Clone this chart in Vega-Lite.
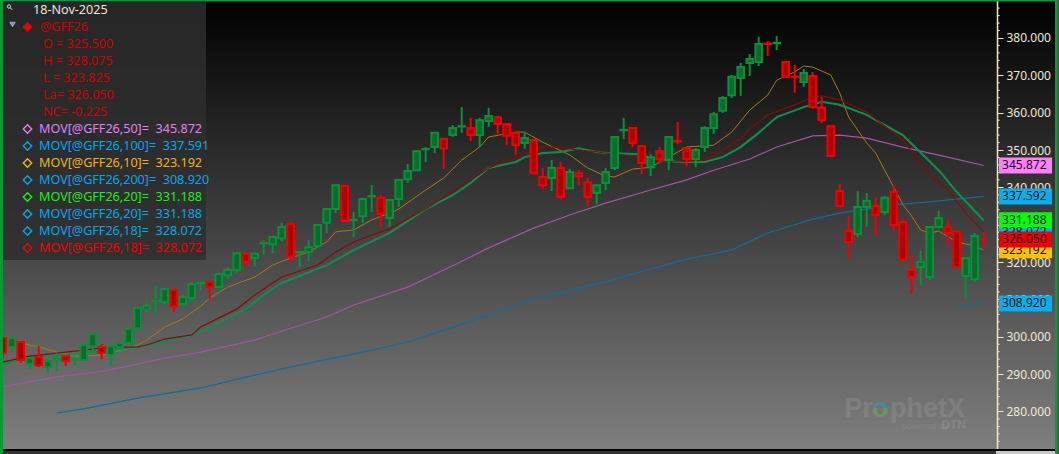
{"$schema":"https://vega.github.io/schema/vega-lite/v6.json","width":1059,"height":454,"padding":0,"autosize":{"type":"none"},"background":"#000000","view":{"stroke":null,"fill":{"gradient":"linear","x1":0,"y1":0,"x2":0,"y2":1,"stops":[{"offset":0,"color":"#000000"},{"offset":1,"color":"#808080"}]}},
"datasets":{
"bars":[
{"i":0,"o":299.7,"h":299.7,"l":294.3,"c":295.7,"d":"dn"},{"i":1,"o":297.3,"h":299.7,"l":295.9,"c":299.7,"d":"up"},{"i":2,"o":298.6,"h":298.6,"l":293.0,"c":293.8,"d":"dn"},{"i":3,"o":292.7,"h":294.3,"l":291.4,"c":294.3,"d":"up"},{"i":4,"o":294.6,"h":297.5,"l":291.9,"c":292.4,"d":"dn"},{"i":5,"o":291.9,"h":294.0,"l":290.6,"c":293.5,"d":"up"},{"i":6,"o":293.9,"h":295.7,"l":290.8,"c":294.0,"d":"up"},{"i":7,"o":294.8,"h":294.8,"l":292.2,"c":293.5,"d":"dn"},{"i":8,"o":293.9,"h":294.6,"l":292.4,"c":294.0,"d":"up"},{"i":9,"o":293.8,"h":297.8,"l":293.8,"c":297.8,"d":"up"},
{"i":10,"o":297.5,"h":300.7,"l":295.9,"c":300.7,"d":"up"},{"i":11,"o":297.3,"h":298.1,"l":294.0,"c":295.7,"d":"dn"},{"i":12,"o":295.1,"h":297.5,"l":292.4,"c":297.5,"d":"up"},{"i":13,"o":297.3,"h":298.6,"l":297.0,"c":298.3,"d":"up"},{"i":14,"o":298.3,"h":302.3,"l":298.1,"c":302.1,"d":"up"},{"i":15,"o":302.3,"h":308.0,"l":301.5,"c":307.7,"d":"up"},{"i":16,"o":307.4,"h":309.0,"l":306.6,"c":308.2,"d":"up"},{"i":17,"o":309.6,"h":313.6,"l":306.4,"c":309.7,"d":"up"},{"i":18,"o":309.3,"h":312.8,"l":308.5,"c":312.8,"d":"up"},{"i":19,"o":312.5,"h":312.5,"l":306.6,"c":308.2,"d":"dn"},
{"i":20,"o":308.8,"h":311.2,"l":308.0,"c":310.65,"d":"up"},{"i":21,"o":310.4,"h":314.7,"l":309.6,"c":314.1,"d":"up"},{"i":22,"o":314.3,"h":314.9,"l":312.3,"c":314.4,"d":"up"},{"i":23,"o":314.7,"h":314.7,"l":310.1,"c":313.3,"d":"dn"},{"i":24,"o":313.3,"h":316.8,"l":313.1,"c":316.8,"d":"up"},{"i":25,"o":316.5,"h":318.7,"l":315.5,"c":317.9,"d":"up"},{"i":26,"o":317.9,"h":322.7,"l":317.1,"c":322.4,"d":"up"},{"i":27,"o":322.2,"h":322.2,"l":318.7,"c":320.0,"d":"dn"},{"i":28,"o":321.1,"h":322.2,"l":318.7,"c":322.2,"d":"up"},{"i":29,"o":325.0,"h":325.9,"l":321.9,"c":325.1,"d":"up"},
{"i":30,"o":324.8,"h":326.7,"l":322.4,"c":326.7,"d":"up"},{"i":31,"o":326.4,"h":330.5,"l":325.6,"c":329.4,"d":"up"},{"i":32,"o":330.2,"h":330.7,"l":320.0,"c":321.4,"d":"dn"},{"i":33,"o":322.6,"h":323.0,"l":318.7,"c":322.7,"d":"up"},{"i":34,"o":322.7,"h":325.9,"l":320.3,"c":324.0,"d":"up"},{"i":35,"o":324.3,"h":330.2,"l":323.8,"c":329.9,"d":"up"},{"i":36,"o":330.5,"h":334.5,"l":327.8,"c":334.2,"d":"up"},{"i":37,"o":334.2,"h":340.9,"l":333.1,"c":340.6,"d":"up"},{"i":38,"o":340.4,"h":340.6,"l":330.7,"c":331.0,"d":"dn"},{"i":39,"o":331.2,"h":333.4,"l":326.7,"c":331.3,"d":"up"},
{"i":40,"o":332.3,"h":337.2,"l":330.5,"c":336.9,"d":"up"},{"i":41,"o":337.6,"h":340.6,"l":333.4,"c":337.7,"d":"up"},{"i":42,"o":337.2,"h":338.0,"l":329.4,"c":332.9,"d":"dn"},{"i":43,"o":331.8,"h":336.6,"l":329.4,"c":336.6,"d":"up"},{"i":44,"o":336.9,"h":342.0,"l":334.75,"c":342.0,"d":"up"},{"i":45,"o":342.2,"h":346.3,"l":341.2,"c":344.4,"d":"up"},{"i":46,"o":344.6,"h":350.0,"l":344.4,"c":349.7,"d":"up"},{"i":47,"o":350.2,"h":350.8,"l":346.8,"c":350.3,"d":"up"},{"i":48,"o":350.8,"h":354.6,"l":349.2,"c":354.6,"d":"up"},{"i":49,"o":353.0,"h":353.2,"l":344.9,"c":350.5,"d":"dn"},
{"i":50,"o":354.0,"h":356.7,"l":353.5,"c":355.9,"d":"up"},{"i":51,"o":356.3,"h":361.5,"l":354.6,"c":356.4,"d":"up"},{"i":52,"o":355.9,"h":358.6,"l":352.4,"c":354.0,"d":"dn"},{"i":53,"o":354.0,"h":358.6,"l":350.8,"c":358.0,"d":"up"},{"i":54,"o":357.8,"h":361.3,"l":356.2,"c":359.1,"d":"up"},{"i":55,"o":358.8,"h":359.1,"l":354.3,"c":357.0,"d":"dn"},{"i":56,"o":357.0,"h":357.2,"l":351.3,"c":353.8,"d":"dn"},{"i":57,"o":354.6,"h":354.6,"l":348.7,"c":351.3,"d":"dn"},{"i":58,"o":351.9,"h":354.6,"l":350.3,"c":353.2,"d":"up"},{"i":59,"o":352.7,"h":353.0,"l":343.6,"c":343.8,"d":"dn"},
{"i":60,"o":342.8,"h":345.2,"l":339.6,"c":340.6,"d":"dn"},{"i":61,"o":342.5,"h":347.3,"l":339.0,"c":345.2,"d":"up"},{"i":62,"o":345.2,"h":346.8,"l":336.9,"c":337.4,"d":"dn"},{"i":63,"o":339.8,"h":344.9,"l":339.6,"c":344.1,"d":"up"},{"i":64,"o":343.8,"h":344.6,"l":340.6,"c":343.0,"d":"dn"},{"i":65,"o":341.4,"h":342.5,"l":335.0,"c":337.4,"d":"dn"},{"i":66,"o":338.5,"h":340.6,"l":335.5,"c":340.6,"d":"up"},{"i":67,"o":341.2,"h":345.2,"l":339.3,"c":344.1,"d":"up"},{"i":68,"o":345.2,"h":353.5,"l":344.6,"c":353.5,"d":"up"},{"i":69,"o":355.3,"h":358.6,"l":353.0,"c":355.4,"d":"up"},
{"i":70,"o":355.9,"h":355.9,"l":350.8,"c":351.9,"d":"dn"},{"i":71,"o":351.1,"h":351.1,"l":343.6,"c":346.5,"d":"dn"},{"i":72,"o":345.4,"h":348.9,"l":343.0,"c":348.1,"d":"up"},{"i":73,"o":349.7,"h":350.8,"l":346.5,"c":347.6,"d":"dn"},{"i":74,"o":347.3,"h":353.5,"l":344.6,"c":353.5,"d":"up"},{"i":75,"o":352.4,"h":357.5,"l":351.6,"c":352.3,"d":"dn"},{"i":76,"o":350.5,"h":350.8,"l":345.7,"c":347.6,"d":"dn"},{"i":77,"o":347.6,"h":350.5,"l":345.4,"c":350.0,"d":"up"},{"i":78,"o":350.8,"h":356.4,"l":349.5,"c":355.9,"d":"up"},{"i":79,"o":355.9,"h":360.2,"l":354.3,"c":359.6,"d":"up"},
{"i":80,"o":360.5,"h":364.5,"l":359.9,"c":363.9,"d":"up"},{"i":81,"o":364.7,"h":370.1,"l":363.9,"c":369.6,"d":"up"},{"i":82,"o":369.3,"h":373.3,"l":364.5,"c":372.2,"d":"up"},{"i":83,"o":373.3,"h":375.7,"l":369.8,"c":374.4,"d":"up"},{"i":84,"o":373.6,"h":380.3,"l":372.5,"c":378.4,"d":"up"},{"i":85,"o":378.5,"h":379.2,"l":375.2,"c":378.4,"d":"dn"},{"i":86,"o":378.6,"h":380.5,"l":376.8,"c":378.7,"d":"up"},{"i":87,"o":373.6,"h":373.6,"l":369.6,"c":369.6,"d":"dn"},{"i":88,"o":369.7,"h":372.8,"l":365.3,"c":369.6,"d":"dn"},{"i":89,"o":368.2,"h":371.7,"l":366.9,"c":370.6,"d":"up"},
{"i":90,"o":369.8,"h":370.9,"l":361.0,"c":361.5,"d":"dn"},{"i":91,"o":361.3,"h":364.2,"l":357.2,"c":358.0,"d":"dn"},{"i":92,"o":356.4,"h":356.4,"l":348.1,"c":348.4,"d":"dn"},{"i":93,"o":339.0,"h":340.9,"l":335.0,"c":335.0,"d":"dn"},{"i":94,"o":328.3,"h":332.3,"l":320.8,"c":325.4,"d":"dn"},{"i":95,"o":327.5,"h":339.0,"l":326.7,"c":334.75,"d":"up"},{"i":96,"o":334.75,"h":338.5,"l":329.4,"c":336.4,"d":"up"},{"i":97,"o":335.0,"h":337.2,"l":327.0,"c":332.6,"d":"dn"},{"i":98,"o":333.4,"h":337.7,"l":332.6,"c":337.2,"d":"up"},{"i":99,"o":338.8,"h":340.4,"l":328.3,"c":329.9,"d":"dn"},
{"i":100,"o":330.7,"h":331.8,"l":320.6,"c":320.6,"d":"dn"},{"i":101,"o":317.9,"h":321.9,"l":311.5,"c":316.0,"d":"dn"},{"i":102,"o":318.7,"h":323.0,"l":313.8,"c":320.0,"d":"up"},{"i":103,"o":316.0,"h":329.4,"l":315.2,"c":329.4,"d":"up"},{"i":104,"o":329.4,"h":333.7,"l":328.9,"c":331.8,"d":"up"},{"i":105,"o":329.4,"h":331.3,"l":324.3,"c":327.8,"d":"dn"},{"i":106,"o":328.1,"h":328.1,"l":318.7,"c":318.7,"d":"dn"},{"i":107,"o":316.3,"h":321.1,"l":310.1,"c":321.1,"d":"up"},{"i":108,"o":315.5,"h":327.8,"l":314.7,"c":327.0,"d":"up"},{"i":109,"o":326.05,"h":328.075,"l":323.825,"c":326.05,"d":"dn"}],
"ma50":[{"i":0,"v":286.6},{"i":3,"v":288.0},{"i":7,"v":289.6},{"i":11,"v":290.7},{"i":15,"v":292.7},{"i":18,"v":294.3},{"i":22,"v":295.9},{"i":28,"v":299.1},{"i":32,"v":302.3},{"i":36,"v":305.3},{"i":39,"v":308.5},{"i":45,"v":313.3},{"i":50,"v":319.0},{"i":54,"v":323.8},{"i":59,"v":329.1},{"i":63,"v":332.6},{"i":67,"v":335.8},{"i":72,"v":339.3},{"i":76,"v":342.0},{"i":79,"v":344.6},{"i":83,"v":347.6},{"i":86,"v":350.8},{"i":90,"v":353.8},{"i":93,"v":354.0},{"i":96,"v":353.2},{"i":100,"v":350.8},{"i":105,"v":348.1},{"i":109,"v":345.87}],
"ma100":[{"i":6,"v":279.6},{"i":9,"v":280.7},{"i":15,"v":283.6},{"i":22,"v":286.3},{"i":31,"v":291.4},{"i":40,"v":295.9},{"i":45,"v":298.6},{"i":49,"v":301.8},{"i":54,"v":305.8},{"i":58,"v":309.3},{"i":63,"v":312.5},{"i":67,"v":314.7},{"i":72,"v":318.2},{"i":76,"v":320.8},{"i":81,"v":323.2},{"i":85,"v":327.8},{"i":90,"v":331.5},{"i":93,"v":333.1},{"i":96,"v":334.2},{"i":99,"v":335.3},{"i":103,"v":336.1},{"i":109,"v":337.59}],
"ma200":[{"i":106,"v":308.2},{"i":109,"v":308.92}],
"ma10":[{"i":2,"v":298.3},{"i":4,"v":297.3},{"i":6,"v":295.9},{"i":8,"v":294.8},{"i":11,"v":295.1},{"i":12,"v":295.7},{"i":14,"v":296.9},{"i":15,"v":297.8},{"i":16,"v":299.1},{"i":18,"v":302.6},{"i":20,"v":304.8},{"i":22,"v":308.2},{"i":23,"v":310.4},{"i":25,"v":313.3},{"i":28,"v":316.0},{"i":30,"v":319.2},{"i":32,"v":321.1},{"i":34,"v":322.7},{"i":36,"v":325.4},{"i":37,"v":328.1},{"i":39,"v":328.6},{"i":41,"v":331.3},{"i":43,"v":333.1},{"i":44,"v":334.2},{"i":47,"v":339.3},{"i":49,"v":342.5},{"i":51,"v":347.3},{"i":53,"v":350.8},{"i":54,"v":353.5},{"i":57,"v":354.8},{"i":58,"v":354.8},{"i":60,"v":352.1},{"i":63,"v":348.7},{"i":65,"v":345.2},{"i":67,"v":343.0},{"i":68,"v":342.8},{"i":70,"v":344.9},{"i":72,"v":345.4},{"i":74,"v":348.1},{"i":76,"v":350.8},{"i":79,"v":351.3},{"i":81,"v":354.8},{"i":83,"v":360.7},{"i":85,"v":364.7},{"i":86,"v":368.7},{"i":88,"v":370.9},{"i":89,"v":372.5},{"i":90,"v":372.2},{"i":92,"v":370.1},{"i":93,"v":365.3},{"i":94,"v":358.8},{"i":96,"v":351.9},{"i":97,"v":349.2},{"i":98,"v":344.6},{"i":99,"v":340.1},{"i":100,"v":335.5},{"i":101,"v":332.3},{"i":102,"v":328.6},{"i":103,"v":327.8},{"i":104,"v":328.3},{"i":106,"v":325.4},{"i":108,"v":324.3},{"i":109,"v":323.19}],
"ma18":[{"i":0,"v":293.2},{"i":3,"v":294.8},{"i":7,"v":295.9},{"i":11,"v":297.0},{"i":15,"v":297.3},{"i":16,"v":297.8},{"i":18,"v":299.4},{"i":21,"v":300.5},{"i":22,"v":302.6},{"i":26,"v":307.4},{"i":28,"v":311.2},{"i":31,"v":316.0},{"i":35,"v":319.2},{"i":37,"v":322.7},{"i":39,"v":325.4},{"i":42,"v":328.1},{"i":43,"v":328.9},{"i":47,"v":334.2},{"i":49,"v":337.4},{"i":52,"v":342.0},{"i":54,"v":345.2},{"i":57,"v":348.1},{"i":60,"v":350.8},{"i":62,"v":350.8},{"i":64,"v":350.0},{"i":66,"v":349.5},{"i":67,"v":349.2},{"i":70,"v":348.4},{"i":72,"v":347.3},{"i":75,"v":346.8},{"i":78,"v":347.3},{"i":80,"v":350.0},{"i":82,"v":353.0},{"i":83,"v":355.6},{"i":85,"v":359.4},{"i":88,"v":362.1},{"i":90,"v":364.2},{"i":91,"v":364.5},{"i":93,"v":363.4},{"i":96,"v":360.2},{"i":100,"v":352.7},{"i":103,"v":343.3},{"i":105,"v":339.3},{"i":107,"v":333.1},{"i":109,"v":328.07}],
"ma20":[{"i":0,"v":292.4},{"i":3,"v":294.6},{"i":7,"v":295.1},{"i":11,"v":296.2},{"i":15,"v":297.3},{"i":18,"v":298.6},{"i":22,"v":301.3},{"i":27,"v":307.4},{"i":29,"v":311.2},{"i":31,"v":314.4},{"i":36,"v":319.2},{"i":39,"v":323.2},{"i":43,"v":327.8},{"i":47,"v":334.2},{"i":50,"v":337.9},{"i":52,"v":341.2},{"i":54,"v":345.2},{"i":57,"v":346.8},{"i":58,"v":348.1},{"i":60,"v":349.2},{"i":62,"v":349.5},{"i":64,"v":350.5},{"i":66,"v":349.5},{"i":67,"v":349.2},{"i":71,"v":348.9},{"i":72,"v":347.6},{"i":75,"v":346.8},{"i":78,"v":346.8},{"i":80,"v":348.1},{"i":82,"v":350.8},{"i":84,"v":354.6},{"i":86,"v":358.8},{"i":89,"v":361.5},{"i":91,"v":362.9},{"i":93,"v":362.1},{"i":96,"v":359.4},{"i":100,"v":354.0},{"i":104,"v":344.6},{"i":106,"v":338.8},{"i":109,"v":331.19}],
"minor":[{"p":272},{"p":274},{"p":276},{"p":278},{"p":282},{"p":284},{"p":286},{"p":288},{"p":292},{"p":294},{"p":296},{"p":298},{"p":302},{"p":304},{"p":306},{"p":308},{"p":312},{"p":314},{"p":316},{"p":318},{"p":322},{"p":324},{"p":326},{"p":328},{"p":332},{"p":334},{"p":336},{"p":338},{"p":342},{"p":344},{"p":346},{"p":348},{"p":352},{"p":354},{"p":356},{"p":358},{"p":362},{"p":364},{"p":366},{"p":368},{"p":372},{"p":374},{"p":376},{"p":378},{"p":382},{"p":384},{"p":386},{"p":388}],
"tags":[{"t":"m50","p":345.872,"s":"345.872"},{"t":"m100","p":337.592,"s":"337.592"},{"t":"m200","p":308.92,"s":"308.920"},{"t":"m10","p":323.192,"s":"323.192"},{"t":"m18b","p":328.072,"s":"328.072"},{"t":"m20","p":331.188,"s":"331.188"}],
"last":[{"t":"last","p":326.05,"s":"326.050"}],
"lines":[{"line":0,"text":"18-Nov-2025","k":"date","g":"date"},{"line":1,"text":"@GFF26","k":"sym","g":"sym"},{"line":2,"text":"O = 325.500","k":"sym","g":"ohlc"},{"line":3,"text":"H = 328.075","k":"sym","g":"ohlc"},{"line":4,"text":"L = 323.825","k":"sym","g":"ohlc"},{"line":5,"text":"La= 326.050","k":"sym","g":"ohlc"},{"line":6,"text":"NC= -0.225","k":"sym","g":"ohlc"},{"line":7,"text":"MOV[@GFF26,50]=\u00a0\u00a0345.872","k":"m50","g":"mov"},{"line":8,"text":"MOV[@GFF26,100]=\u00a0\u00a0337.591","k":"m100","g":"mov"},{"line":9,"text":"MOV[@GFF26,10]=\u00a0\u00a0323.192","k":"m10","g":"mov"},{"line":10,"text":"MOV[@GFF26,200]=\u00a0\u00a0308.920","k":"m100","g":"mov"},{"line":11,"text":"MOV[@GFF26,20]=\u00a0\u00a0331.188","k":"m20","g":"mov"},{"line":12,"text":"MOV[@GFF26,20]=\u00a0\u00a0331.188","k":"m100","g":"mov"},{"line":13,"text":"MOV[@GFF26,18]=\u00a0\u00a0328.072","k":"m100","g":"mov"},{"line":14,"text":"MOV[@GFF26,18]=\u00a0\u00a0328.072","k":"m18","g":"mov"}]
},
"layer":[
{"layer":[
{"data":{"name":"minor"},"mark":{"type":"rule","stroke":"#f5e6b8","strokeWidth":1},"encoding":{"y":{"field":"p","type":"quantitative","title":null,"scale":{"domain":[268.62,390.17],"nice":false,"zero":false,"padding":0},"axis":{"orient":"right","offset":-62,"values":[280,290,300,310,320,330,340,350,360,370,380],"format":".3f","title":null,"grid":false,"domainColor":"#f5e6b8","domainWidth":1.5,"tickColor":"#f5e6b8","tickSize":6,"tickWidth":1,"labelColor":"#efe9d2","labelFont":"Noto Sans","labelFontSize":12,"labelPadding":3,"labelFlush":false,"labelOverlap":false}},"x":{"datum":110.48,"type":"quantitative","axis":null,"scale":{"domain":[-0.3,117.37],"nice":false,"zero":false,"padding":0}},"x2":{"datum":110.78}}},
{"data":{"values":[{"w":"Pr"}]},"mark":{"type":"text","font":"Liberation Sans","fontWeight":"bold","fontSize":27,"align":"left","baseline":"alphabetic","fill":"#ffffff","opacity":0.09},"encoding":{"text":{"field":"w"},"x":{"datum":93.5,"type":"quantitative","axis":null},"y":{"datum":278.5,"type":"quantitative","title":null}}},
{"data":{"values":[{"w":"o"}]},"mark":{"type":"text","font":"Liberation Sans","fontWeight":"bold","fontSize":27,"align":"left","baseline":"alphabetic","opacity":0.7,"fill":{"gradient":"linear","x1":0,"y1":0,"x2":0,"y2":1,"stops":[{"offset":0,"color":"#3f8fb5"},{"offset":0.5,"color":"#3f8fb5"},{"offset":0.5,"color":"#62a35c"},{"offset":1,"color":"#62a35c"}]}},"encoding":{"text":{"field":"w"},"x":{"datum":96.6,"type":"quantitative","axis":null},"y":{"datum":278.5,"type":"quantitative","title":null}}},
{"data":{"values":[{"w":"phetX"}]},"mark":{"type":"text","font":"Liberation Sans","fontWeight":"bold","fontSize":27,"align":"left","baseline":"alphabetic","fill":"#ffffff","opacity":0.09},"encoding":{"text":{"field":"w"},"x":{"datum":98.6,"type":"quantitative","axis":null},"y":{"datum":278.5,"type":"quantitative","title":null}}},
{"data":{"values":[{"w":"powered by"}]},"mark":{"type":"text","font":"Liberation Sans","fontSize":9,"align":"left","baseline":"alphabetic","fill":"#ffffff","opacity":0.07},"encoding":{"text":{"field":"w"},"x":{"datum":99.9,"type":"quantitative","axis":null},"y":{"datum":275.4,"type":"quantitative","title":null}}},
{"data":{"values":[{"w":"DTN"}]},"mark":{"type":"text","font":"Liberation Sans","fontWeight":"bold","fontSize":12,"align":"left","baseline":"alphabetic","fill":"#ffffff","opacity":0.1},"encoding":{"text":{"field":"w"},"x":{"datum":104.3,"type":"quantitative","axis":null},"y":{"datum":275.4,"type":"quantitative","title":null}}},
{"data":{"name":"ma200"},"mark":{"type":"line","stroke":"#0e6d9e","strokeWidth":1.2},"encoding":{"x":{"field":"i","type":"quantitative","axis":null},"y":{"field":"v","type":"quantitative","title":null}}},
{"data":{"name":"ma100"},"mark":{"type":"line","stroke":"#0e6d9e","strokeWidth":1.2},"encoding":{"x":{"field":"i","type":"quantitative","axis":null},"y":{"field":"v","type":"quantitative","title":null}}},
{"data":{"name":"ma50"},"mark":{"type":"line","stroke":"#a355a3","strokeWidth":1.2},"encoding":{"x":{"field":"i","type":"quantitative","axis":null},"y":{"field":"v","type":"quantitative","title":null}}},
{"data":{"name":"ma10"},"mark":{"type":"line","stroke":"#a9790f","strokeWidth":1},"encoding":{"x":{"field":"i","type":"quantitative","axis":null},"y":{"field":"v","type":"quantitative","title":null}}},
{"data":{"name":"ma20"},"mark":{"type":"line","stroke":"#0a9a3c","strokeWidth":2},"encoding":{"x":{"field":"i","type":"quantitative","axis":null},"y":{"field":"v","type":"quantitative","title":null}}},
{"data":{"name":"ma20"},"mark":{"type":"line","stroke":"#0e6d9e","strokeWidth":0.8,"opacity":0.5},"encoding":{"x":{"field":"i","type":"quantitative","axis":null},"y":{"field":"v","type":"quantitative","title":null}}},
{"data":{"name":"ma18"},"mark":{"type":"line","stroke":"#8a0a0a","strokeWidth":1.2},"encoding":{"x":{"field":"i","type":"quantitative","axis":null},"y":{"field":"v","type":"quantitative","title":null}}},
{"data":{"name":"bars"},"mark":{"type":"rule","strokeWidth":2},"encoding":{"x":{"field":"i","type":"quantitative","axis":null},"y":{"field":"h","type":"quantitative","title":null},"y2":{"field":"l"},"stroke":{"field":"d","type":"nominal","legend":null,"scale":{"domain":["up","dn"],"range":["#0a8f3a","#f00000"]}}}},
{"data":{"name":"bars"},"mark":{"type":"bar","orient":"vertical","size":6.6,"strokeWidth":2},"encoding":{"x":{"field":"i","type":"quantitative","axis":null},"y":{"field":"o","type":"quantitative","title":null},"y2":{"field":"c"},"stroke":{"field":"d","type":"nominal","legend":null},"fill":{"field":"d","type":"nominal","legend":null,"scale":{"domain":["up","dn"],"range":["#066d2a","#ad0000"]}}}},
{"data":{"name":"tags"},"mark":{"type":"bar","orient":"horizontal","size":16},"encoding":{"y":{"field":"p","type":"quantitative","title":null},"x":{"datum":110.7,"type":"quantitative","axis":null},"x2":{"datum":116.6},"color":{"field":"t","type":"nominal","legend":null,"scale":{"domain":["m50","m100","m200","m10","m18b","m20","last"],"range":["#ff80ff","#00b0f0","#00b0f0","#ffc000","#00b0f0","#00ff00","#f00000"]}}}},
{"data":{"name":"tags"},"mark":{"type":"text","font":"Noto Sans","fontSize":12,"align":"left","baseline":"middle","fill":"#111111"},"encoding":{"y":{"field":"p","type":"quantitative","title":null},"x":{"datum":111.05,"type":"quantitative","axis":null},"text":{"field":"s"}}},
{"data":{"name":"last"},"mark":{"type":"bar","orient":"horizontal","size":16},"encoding":{"y":{"field":"p","type":"quantitative","title":null},"x":{"datum":110.7,"type":"quantitative","axis":null},"x2":{"datum":116.6},"color":{"field":"t","type":"nominal","legend":null}}},
{"data":{"name":"last"},"mark":{"type":"text","font":"Noto Sans","fontSize":12,"align":"left","baseline":"middle","fill":"#111111"},"encoding":{"y":{"field":"p","type":"quantitative","title":null},"x":{"datum":111.05,"type":"quantitative","axis":null},"text":{"field":"s"}}}
]},
{"layer":[
{"data":{"values":[{"part":"panel"}]},"mark":{"type":"rect","fill":"#2e2e2e","opacity":0.85},"encoding":{"x":{"value":3},"x2":{"value":206},"y":{"value":2},"y2":{"value":260}}},
{"data":{"name":"lines"},"transform":[{"filter":"datum.g=='date'"}],"mark":{"type":"text","font":"Noto Sans","fontSize":12.6,"align":"left","baseline":"middle"},"encoding":{"x":{"value":33},"y":{"field":"line","type":"quantitative","axis":null,"scale":{"domain":[0,14],"range":[10,248],"nice":false,"zero":false}},"text":{"field":"text"},"color":{"field":"k","type":"nominal","legend":null,"scale":{"domain":["date","sym","m50","m100","m10","m20","m18"],"range":["#e6e6dc","#d00000","#e080f5","#00a8ec","#f0b418","#18f018","#f00000"]}}}},
{"data":{"name":"lines"},"transform":[{"filter":"datum.g=='sym'"}],"mark":{"type":"text","font":"Noto Sans","fontSize":12.6,"align":"left","baseline":"middle"},"encoding":{"x":{"value":40},"y":{"field":"line","type":"quantitative","axis":null},"text":{"field":"text"},"color":{"field":"k","type":"nominal","legend":null}}},
{"data":{"name":"lines"},"transform":[{"filter":"datum.g=='ohlc'"}],"mark":{"type":"text","font":"Noto Sans","fontSize":12.6,"align":"left","baseline":"middle"},"encoding":{"x":{"value":43},"y":{"field":"line","type":"quantitative","axis":null},"text":{"field":"text"},"color":{"field":"k","type":"nominal","legend":null}}},
{"data":{"name":"lines"},"transform":[{"filter":"datum.g=='mov'"}],"mark":{"type":"text","font":"Noto Sans","fontSize":12.6,"align":"left","baseline":"middle"},"encoding":{"x":{"value":39},"y":{"field":"line","type":"quantitative","axis":null},"text":{"field":"text"},"color":{"field":"k","type":"nominal","legend":null}}},
{"data":{"name":"lines"},"transform":[{"filter":"datum.g=='mov'"}],"mark":{"type":"point","shape":"diamond","size":70,"filled":false,"strokeWidth":1.4,"opacity":1},"encoding":{"x":{"value":27.5},"y":{"field":"line","type":"quantitative","axis":null},"color":{"field":"k","type":"nominal","legend":null}}},
{"data":{"name":"lines"},"transform":[{"filter":"datum.g=='sym'"}],"mark":{"type":"point","shape":"diamond","size":100,"filled":true,"fill":"#f00000","opacity":1},"encoding":{"x":{"value":27.5},"y":{"field":"line","type":"quantitative","axis":null}}},
{"data":{"values":[{"part":"collapse"}]},"mark":{"type":"point","shape":"triangle-down","size":30,"filled":true,"fill":"#8a80ff","stroke":"#ffffff","strokeWidth":0.4,"opacity":1},"encoding":{"x":{"value":12.5},"y":{"value":24.5}}},
{"data":{"values":[{"part":"magnifier"}]},"mark":{"type":"point","shape":"M0.3,0 A0.3,0.3 0 1 1 -0.3,0 A0.3,0.3 0 1 1 0.3,0 M0.2,0.2 L0.6,0.6","size":120,"filled":false,"stroke":"#f0f0f0","strokeWidth":1,"opacity":1},"encoding":{"x":{"value":9},"y":{"value":6.5}}},
{"data":{"values":[{"part":"left"}]},"mark":{"type":"rect","fill":"#0a9a3c"},"encoding":{"x":{"value":0},"x2":{"value":3},"y":{"value":0},"y2":{"value":454}}},
{"data":{"values":[{"part":"top"}]},"mark":{"type":"rect","fill":"#0a9a3c"},"encoding":{"x":{"value":0},"x2":{"value":1057},"y":{"value":0},"y2":{"value":1.5}}},
{"data":{"values":[{"part":"strip"}]},"mark":{"type":"rect","fill":"#000000"},"encoding":{"x":{"value":3},"x2":{"value":1055},"y":{"value":449},"y2":{"value":451}}},
{"data":{"values":[{"part":"stripleft"}]},"mark":{"type":"rect","fill":"#333333"},"encoding":{"x":{"value":3},"x2":{"value":996},"y":{"value":451},"y2":{"value":454}}},
{"data":{"values":[{"part":"stripright"}]},"mark":{"type":"rect","fill":"#c8c8c8"},"encoding":{"x":{"value":996},"x2":{"value":1055},"y":{"value":451},"y2":{"value":454}}},
{"data":{"values":[{"part":"right"}]},"mark":{"type":"rect","fill":"#0a9a3c"},"encoding":{"x":{"value":1055},"x2":{"value":1057},"y":{"value":0},"y2":{"value":454}}},
{"data":{"values":[{"part":"edge"}]},"mark":{"type":"rect","fill":"#555555"},"encoding":{"x":{"value":1057},"x2":{"value":1059},"y":{"value":0},"y2":{"value":454}}}
]}
],
"resolve":{"scale":{"y":"independent","color":"independent"}},
"config":{"view":{"stroke":null}}}
